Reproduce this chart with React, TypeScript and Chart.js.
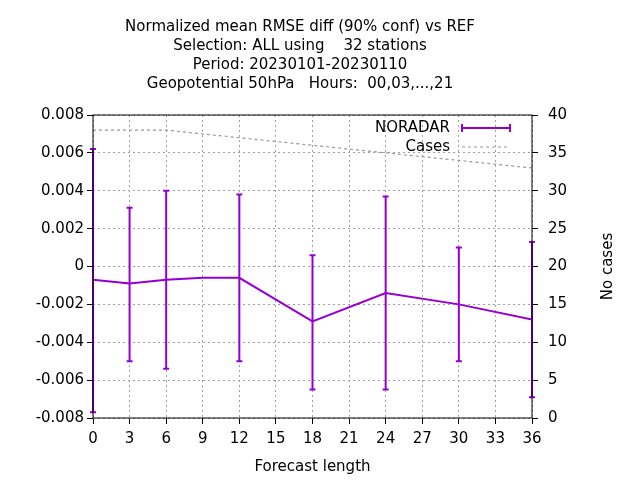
import React, { useRef, useEffect } from 'react';
import { Chart, registerables } from 'chart.js';

Chart.register(...registerables);

const TITLE_LINES = [
  'Normalized mean RMSE diff (90% conf) vs REF',
  'Selection: ALL using    32 stations',
  'Period: 20230101-20230110',
  'Geopotential 50hPa   Hours:  00,03,...,21',
];
const LEADS = [0, 3, 6, 9, 12, 18, 24, 30, 36];
const NORADAR = [-0.0007, -0.0009, -0.0007, -0.0006, -0.0006, -0.0029, -0.0014, -0.002, -0.0028];
const ERR_HI = [0.0062, 0.0031, 0.004, null, 0.0038, 0.0006, 0.0037, 0.001, 0.0013];
const ERR_LO = [-0.0077, -0.005, -0.0054, null, -0.005, -0.0065, -0.0065, -0.005, -0.0069];
const CASES = [38, 38, 38, 37.5, 37, 36, 35, 34, 33];

const FONT = "'DejaVu Sans', sans-serif";
const PURPLE = '#9400d3';

const decor = {
  id: 'decor',
  afterDatasetsDraw(chart: any) {
    const { ctx, scales, chartArea } = chart;
    const x = scales.x, y = scales.y;
    ctx.save();
    ctx.strokeStyle = PURPLE;
    ctx.lineWidth = 2;
    LEADS.forEach((l, i) => {
      const hi = ERR_HI[i], lo = ERR_LO[i];
      if (hi == null || lo == null) return;
      const px = x.getPixelForValue(l);
      const a = y.getPixelForValue(hi), b = y.getPixelForValue(lo);
      ctx.beginPath();
      ctx.moveTo(px, a); ctx.lineTo(px, b);
      ctx.moveTo(px - 3, a); ctx.lineTo(px + 3, a);
      ctx.moveTo(px - 3, b); ctx.lineTo(px + 3, b);
      ctx.stroke();
    });
    // title
    ctx.fillStyle = '#000';
    ctx.font = `15px ${FONT}`;
    ctx.textAlign = 'center';
    ctx.textBaseline = 'middle';
    TITLE_LINES.forEach((t, i) => ctx.fillText(t, 300, 27 + i * 19));
    // legend
    ctx.textAlign = 'right';
    ctx.fillText('NORADAR', 450, 128);
    ctx.fillText('Cases', 450, 147);
    ctx.beginPath();
    ctx.moveTo(462, 128); ctx.lineTo(510, 128);
    ctx.moveTo(462, 124); ctx.lineTo(462, 132);
    ctx.moveTo(510, 124); ctx.lineTo(510, 132);
    ctx.stroke();
    ctx.strokeStyle = '#999';
    ctx.lineWidth = 1.2;
    ctx.setLineDash([3, 3]);
    ctx.beginPath();
    ctx.moveTo(462, 147); ctx.lineTo(510, 147);
    ctx.stroke();
    ctx.setLineDash([]);
    // right axis title, reading bottom to top
    ctx.save();
    ctx.translate(608, (chartArea.top + chartArea.bottom) / 2);
    ctx.rotate(-Math.PI / 2);
    ctx.textAlign = 'center';
    ctx.fillText('No cases', 0, 0);
    ctx.restore();
    // border
    ctx.strokeStyle = '#000';
    ctx.lineWidth = 1;
    ctx.strokeRect(chartArea.left, chartArea.top, chartArea.right - chartArea.left, chartArea.bottom - chartArea.top);
    ctx.restore();
  },
};

export default function App() {
  const ref = useRef<HTMLCanvasElement>(null);
  useEffect(() => {
    document.body.style.margin = '0';
    if (!ref.current) return;
    const tickFont = { family: FONT, size: 15 };
    const grid = { color: '#a0a0a0', lineWidth: 1, tickLength: 6, tickColor: '#000', drawTicks: true };
    const chart = new Chart(ref.current, {
      type: 'line',
      data: {
        datasets: [
          {
            label: 'NORADAR',
            data: LEADS.map((l, i) => ({ x: l, y: NORADAR[i] })),
            borderColor: PURPLE,
            borderWidth: 2,
            pointRadius: 0,
            yAxisID: 'y',
          },
          {
            label: 'Cases',
            data: LEADS.map((l, i) => ({ x: l, y: CASES[i] })),
            borderColor: '#999',
            borderDash: [3, 3],
            borderWidth: 1.2,
            pointRadius: 0,
            yAxisID: 'y2',
          },
        ],
      },
      options: {
        animation: false,
        responsive: false,
        layout: { padding: { top: 115, left: 0, right: 0, bottom: 0 } },
        plugins: { legend: { display: false }, tooltip: { enabled: false }, title: { display: false } },
        scales: {
          x: {
            type: 'linear', min: 0, max: 36,
            ticks: { stepSize: 3, font: tickFont, color: '#000', padding: 6 },
            grid: { ...grid },
            border: { dash: [2, 3], display: false },
            title: { display: true, text: 'Forecast length', font: tickFont, color: '#000', padding: { top: 8 } },
            afterFit: (s: any) => { s.height = 62; },
          },
          y: {
            min: -0.008, max: 0.008,
            ticks: { stepSize: 0.002, font: tickFont, color: '#000', callback: (v: any) => (Math.abs(v) < 1e-9 ? '0' : Number(v).toFixed(3)) },
            grid: { ...grid },
            border: { dash: [2, 3], display: false },
            afterFit: (s: any) => { s.width = 93; },
          },
          y2: {
            position: 'right', min: 0, max: 40,
            ticks: { stepSize: 5, font: tickFont, color: '#000', padding: 10 },
            grid: { drawOnChartArea: false, tickLength: 6, tickColor: '#000' },
            border: { display: false },
            afterFit: (s: any) => { s.width = 108; },
          },
        },
      },
      plugins: [decor],
    });
    return () => chart.destroy();
  }, []);
  return <canvas ref={ref} width={640} height={480} />;
}
